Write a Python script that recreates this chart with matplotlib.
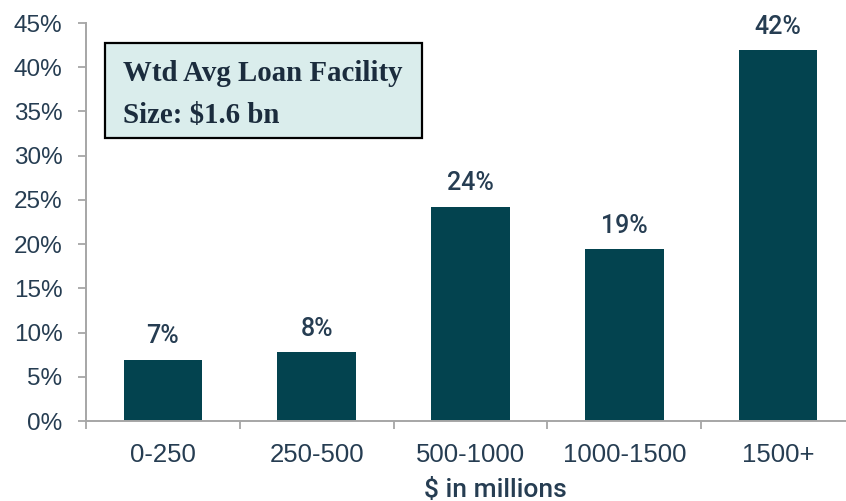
import numpy as np
import matplotlib.pyplot as plt
from matplotlib.patches import Rectangle

# Data
categories = ['0-250', '250-500', '500-1000', '1000-1500', '1500+']
shares = [6.9, 7.8, 24.2, 19.4, 41.9]  # percent of total
bar_labels = ['7%', '8%', '24%', '19%', '42%']
yticks = [0, 5, 10, 15, 20, 25, 30, 35, 40, 45]

bar_color = '#03434F'
text_color = '#263D52'
axis_color = '#A6A6A6'

plt.rcParams['font.family'] = ['Liberation Sans', 'DejaVu Sans']

fig = plt.figure(figsize=(8.46, 5.01), dpi=100)
ax = fig.add_axes([86 / 846, 1 - 421 / 501, 769 / 846, (421 - 23) / 501])

x = np.arange(len(categories))
bars = ax.bar(x, shares, width=0.51, color=bar_color, zorder=2)

# value labels above each bar
for xi, val, lab in zip(x, shares, bar_labels):
    ax.text(xi, val + 1.3, lab, ha='center', va='bottom', fontsize=18,
            family=['Roboto', 'DejaVu Sans'], fontweight='medium', color=text_color)

ax.set_xlim(-0.5, len(categories) - 0.5)
ax.set_ylim(0, 45)
ax.set_yticks(yticks)
ax.set_yticklabels([f'{t}%' for t in yticks])

# category labels at bar centres, tick marks at the boundaries
ax.set_xticks(x)
ax.set_xticklabels(categories)
ax.set_xticks(np.arange(-0.5, len(categories) + 0.5), minor=True)
ax.tick_params(axis='x', which='major', length=0, pad=16, labelsize=18.5, labelcolor=text_color)
ax.tick_params(axis='x', which='minor', length=6, width=1.3, color=axis_color, direction='out')
ax.tick_params(axis='y', length=6, width=1.3, color=axis_color, pad=11, labelsize=17.5, labelcolor=text_color)

for side in ['top', 'right']:
    ax.spines[side].set_visible(False)
for side in ['left', 'bottom']:
    ax.spines[side].set_color(axis_color)
    ax.spines[side].set_linewidth(1.4)

fig.text(495 / 846, 1 - 497 / 501, '$ in millions', ha='center', va='baseline',
         fontsize=19, family=['Roboto', 'DejaVu Sans'], fontweight='medium', color=text_color)

# callout box
box = Rectangle((105 / 846, 1 - 138 / 501), (422 - 105) / 846, (138 - 43) / 501,
                transform=fig.transFigure, facecolor='#DAEDEC', edgecolor='black',
                linewidth=1.6, zorder=5)
fig.patches.append(box)
fig.text(123 / 846, 1 - 81 / 501, 'Wtd Avg Loan Facility', ha='left', va='baseline',
         fontsize=20.8, family='Liberation Serif', fontweight='bold', color='#1B2C3D', zorder=6)
fig.text(123 / 846, 1 - 123 / 501, 'Size: $1.6 bn', ha='left', va='baseline',
         fontsize=20.8, family='Liberation Serif', fontweight='bold', color='#1B2C3D', zorder=6)

fig.savefig('out.png', dpi=100)
